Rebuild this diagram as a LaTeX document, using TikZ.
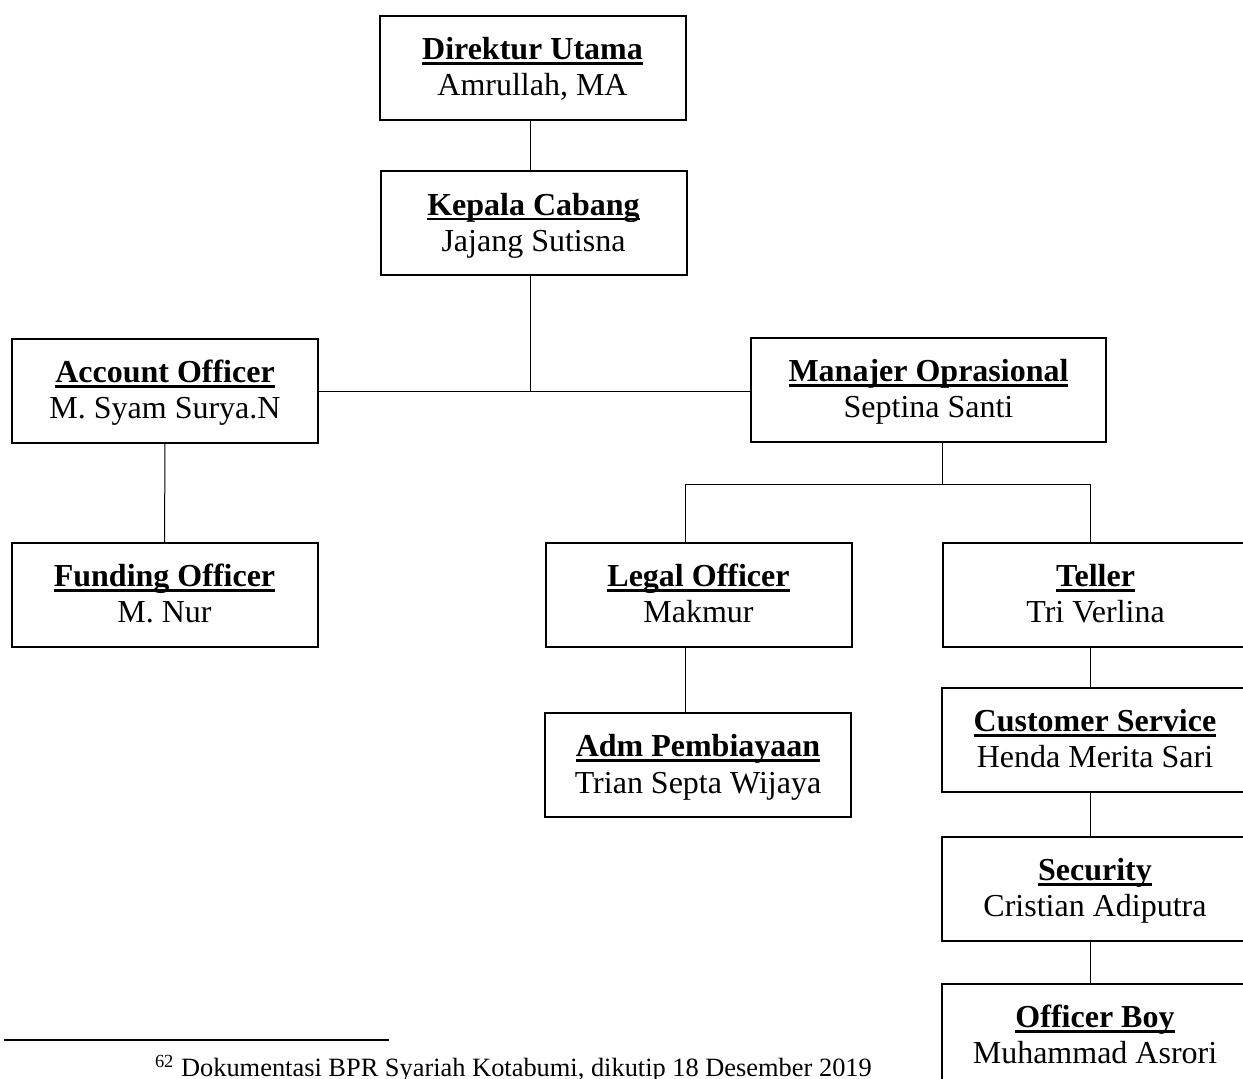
\documentclass[tikz,border=0pt]{standalone}
\usepackage{fontspec}
\setmainfont{Liberation Serif}
\usepackage{tikz}
\definecolor{c000000}{RGB}{0,0,0}
\newcommand{\jabatan}[1]{\rule{0pt}{14.5pt}\setbox0\hbox{\bfseries #1}\rlap{\rule[-2.5pt]{\wd0}{1.3pt}}\box0}
\newcommand{\pejabat}[1]{\rule[-4.5pt]{0pt}{4.5pt}#1}

\begin{document}
\begin{tikzpicture}[y=0.5pt,x=0.5pt,yscale=-1, inner sep=0pt, outer sep=0pt,
    kotak/.style={draw=c000000,line width=1pt,minimum width=153pt,minimum height=52pt,
      align=center,font=\fontsize{16}{18}\selectfont},
    garis/.style={draw=c000000,line width=0.5pt}]
  \useasboundingbox (0,0) rectangle (1243,1079);
  \clip (0,0) rectangle (1243,1079);
  \node[kotak] (dirut) at (532.5,68.0) {\jabatan{Direktur Utama}\\\pejabat{Amrullah, MA}};
  \node[kotak] (kacab) at (533.5,223.5) {\jabatan{Kepala Cabang}\\\pejabat{Jajang Sutisna}};
  \node[kotak] (ao) at (165.0,391.0) {\jabatan{Account Officer}\\\pejabat{M. Syam Surya.N}};
  \node[kotak,minimum width=177.5pt] (manop) at (928.5,390.0)
    {\jabatan{Manajer Oprasional}\\\pejabat{Septina Santi}};
  \node[kotak] (fo) at (164.5,595.0) {\jabatan{Funding Officer}\\\pejabat{M. Nur}};
  \node[kotak] (lo) at (698.5,595.0) {\jabatan{Legal Officer}\\\pejabat{Makmur}};
  \node[kotak] (teller) at (1095.5,595.0) {\jabatan{Teller}\\\pejabat{Tri Verlina}};
  \node[kotak] (adm) at (698.0,765.0) {\jabatan{Adm Pembiayaan}\\\pejabat{Trian Septa Wijaya}};
  \node[kotak] (cs) at (1095.0,740.0) {\jabatan{Customer Service}\\\pejabat{Henda Merita Sari}};
  \node[kotak] (sec) at (1095.0,888.5) {\jabatan{Security}\\\pejabat{Cristian Adiputra}};
  \node[kotak] (ob) at (1095.0,1035.5) {\jabatan{Officer Boy}\\\pejabat{Muhammad Asrori}};
  \coordinate (bus1) at (530.0,392.0);
  \coordinate (bus2) at (942.0,485.0);
  \coordinate (kiri) at (685.0,485.0);
  \coordinate (kanan) at (1090.0,485.0);
  \path[garis] (dirut.south -| bus1) -- (kacab.north -| bus1);
  \path[garis] (kacab.south -| bus1) -- (bus1);
  \path[garis] (ao.east |- bus1) -- (manop.west |- bus1);
  \path[garis] (ao) -- (fo);
  \path[garis] (manop.south -| bus2) -- (bus2);
  \path[garis] (lo.north -| kiri) -- (kiri) -- (kanan) -- (teller.north -| kanan);
  \path[garis] (lo.south -| kiri) -- (adm.north -| kiri);
  \path[garis] (teller.south -| kanan) -- (cs.north -| kanan);
  \path[garis] (cs.south -| kanan) -- (sec.north -| kanan);
  \path[garis] (sec.south -| kanan) -- (ob.north -| kanan);
  \coordinate (fn1) at (4.0,1040.0);
  \coordinate (fn2) at (389.0,1040.0);
  \path[draw=c000000,line width=0.75pt] (fn1) -- (fn2);
  \node[anchor=base west,font=\fontsize{13.2}{15}\selectfont] (catatan) at (155.0,1076.0)
    {\textsuperscript{62} Dokumentasi BPR Syariah Kotabumi, dikutip 18 Desember 2019};
\end{tikzpicture}
\end{document}
